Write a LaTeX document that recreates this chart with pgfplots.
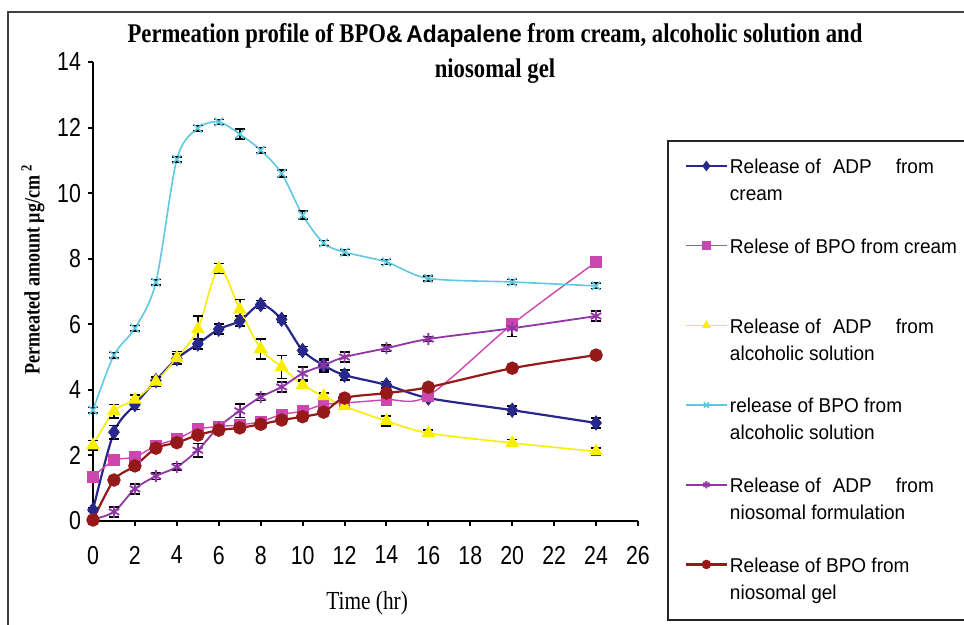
\documentclass[border=0pt]{standalone}
\usepackage{fontspec}
\setmainfont{Liberation Serif}
\newfontfamily\narrowserif[FakeStretch=0.84]{Liberation Serif}
\newfontfamily\labelserif[FakeStretch=0.82]{Liberation Serif}
\newfontfamily\tickfont[FakeStretch=0.82]{Liberation Sans}
\newfontfamily\legfont[FakeStretch=0.95]{Liberation Sans}
\usepackage{pgfplots}
\usepackage{pgfplotstable}
\pgfplotsset{compat=1.18}

\definecolor{adpcream}{RGB}{40,40,140}
\definecolor{bpocream}{RGB}{205,70,175}
\definecolor{adpalc}{RGB}{250,238,0}
\definecolor{bpoalc}{RGB}{95,200,225}
\definecolor{adpnio}{RGB}{145,55,165}
\definecolor{bponio}{RGB}{150,25,25}

% time (hr), permeated amount, error
\pgfplotstableread{
x y e
0 0.34 0.05
1 2.71 0.20
2 3.55 0.15
3 4.28 0.10
4 4.95 0.15
5 5.40 0.15
6 5.85 0.15
7 6.10 0.15
8 6.60 0.12
9 6.15 0.10
10 5.20 0.12
11 4.75 0.15
12 4.45 0.15
14 4.15 0.10
16 3.75 0.10
20 3.38 0.12
24 2.99 0.15
}\adpcream

\pgfplotstableread{
x y e
0 1.35 0.05
1 1.85 0.06
2 1.95 0.06
3 2.30 0.08
4 2.50 0.08
5 2.80 0.08
6 2.88 0.08
7 2.93 0.08
8 3.03 0.08
9 3.25 0.08
10 3.35 0.08
11 3.55 0.08
12 3.60 0.08
14 3.70 0.08
16 3.82 0.08
20 6.00 0.15
24 7.90 0.08
}\bpocream

\pgfplotstableread{
x y e
0 2.31 0.15
1 3.35 0.20
2 3.70 0.15
3 4.25 0.15
4 4.97 0.20
5 5.85 0.40
6 7.70 0.15
7 6.45 0.30
8 5.25 0.30
9 4.70 0.35
10 4.15 0.10
11 3.81 0.10
12 3.50 0.10
14 3.05 0.15
16 2.68 0.10
20 2.38 0.10
24 2.12 0.10
}\adpalc

\pgfplotstableread{
x y e
0 3.38 0.08
1 5.06 0.08
2 5.88 0.08
3 7.28 0.08
4 11.03 0.08
5 11.98 0.08
6 12.17 0.08
7 11.80 0.15
8 11.31 0.08
9 10.60 0.10
10 9.33 0.12
11 8.48 0.08
12 8.20 0.08
14 7.90 0.08
16 7.40 0.08
20 7.29 0.08
24 7.17 0.08
}\bpoalc

\pgfplotstableread{
x y e
0 0.05 0.05
1 0.28 0.15
2 0.98 0.15
3 1.37 0.10
4 1.65 0.10
5 2.16 0.20
6 2.87 0.15
7 3.36 0.20
8 3.78 0.10
9 4.09 0.15
10 4.50 0.20
11 4.75 0.20
12 5.00 0.15
14 5.27 0.10
16 5.55 0.08
20 5.88 0.25
24 6.25 0.15
}\adpnio

\pgfplotstableread{
x y e
0 0.03 0.05
1 1.25 0.06
2 1.68 0.08
3 2.22 0.08
4 2.39 0.08
5 2.62 0.08
6 2.77 0.08
7 2.84 0.08
8 2.95 0.08
9 3.08 0.08
10 3.18 0.08
11 3.32 0.08
12 3.75 0.08
14 3.90 0.08
16 4.08 0.08
20 4.66 0.08
24 5.06 0.08
}\bponio

\begin{document}
\begin{tikzpicture}
\path[use as bounding box] (0pt,0pt) rectangle (482pt,312.5pt);
% page frame
\draw[line width=0.8pt, black!75] (4pt,-2pt) -- (4pt,306.5pt) -- (484pt,306.5pt);

\node[font=\narrowserif\bfseries\fontsize{13.5}{17.5}\selectfont, align=center, inner sep=0pt]
  at (247.5pt,285.8pt)
  {Permeation profile of BPO{\legfont\bfseries\fontsize{12}{12}\selectfont\&\,Adapalene} from cream, alcoholic solution and\\ niosomal gel};

\begin{axis}[
  at={(46.5pt,52pt)}, anchor=south west,
  scale only axis, width=272.5pt, height=229.5pt,
  xmin=0, xmax=26, ymin=0, ymax=14,
  xtick={0,2,...,26}, ytick={0,2,...,14},
  axis lines*=left,
  axis line style={line width=1pt, black, -},
  tick style={black, line width=1pt},
  major tick length=2.5pt,
  tick align=outside,
  clip=false,
  /pgf/number format/assume math mode=true,
  ticklabel style={font=\tickfont\fontsize{13}{13}\selectfont},
  xticklabel style={yshift=-6.5pt},
  xlabel={Time (hr)},
  xlabel style={font=\labelserif\fontsize{13}{13}\selectfont, at={(axis description cs:0.503,-0.179)}, anchor=center},
  ylabel={Permeated amount µg/cm\,\textsuperscript{2}},
  ylabel style={font=\labelserif\bfseries\fontsize{11}{11}\selectfont, at={(axis description cs:-0.110,0.548)}, anchor=center},
  error bars/y dir=both,
  error bars/y explicit,
  error bars/error bar style={black, line width=0.8pt, solid},
  error bars/error mark options={black, line width=0.8pt, rotate=90, mark size=2.5pt, solid},
  legend image code/.code={%
    \draw[mark repeat=2,mark phase=2,#1,mark size=1.8pt] plot coordinates {(0pt,-4.7pt) (10.25pt,-4.7pt) (20.5pt,-4.7pt)};},
  legend style={at={(1.0532,0.8301)}, anchor=north west, draw=black!85, line width=0.8pt,
    inner xsep=8.5pt, inner ysep=7.9pt, row sep=15.2pt, column sep=0pt,
    font=\legfont\fontsize{10}{13.5}\selectfont,
    cells={anchor=north west, align=left}, nodes={inner sep=1pt}},
]
\addplot[adpcream, line width=1.1pt, smooth, mark=diamond*, mark size=3pt, mark options={solid, fill=adpcream}]
  table[x=x, y=y, y error=e] {\adpcream};
\addlegendentry{Release of\hspace{6pt}ADP\hspace{12pt}from\\cream\strut}

\addplot[bpocream, line width=0.7pt, smooth, mark=square*, mark size=2.6pt, mark options={solid, fill=bpocream}]
  table[x=x, y=y, y error=e] {\bpocream};
\addlegendentry{Relese of BPO from cream\\\strut}

\addplot[adpalc, line width=0.8pt, smooth, mark=triangle*, mark size=3.2pt, mark options={solid, fill=adpalc}]
  table[x=x, y=y, y error=e] {\adpalc};
\addlegendentry{Release of\hspace{6pt}ADP\hspace{12pt}from\\alcoholic solution\strut}

\addplot[bpoalc, line width=0.8pt, smooth, mark=x, mark size=3pt, mark options={solid}]
  table[x=x, y=y, y error=e] {\bpoalc};
\addlegendentry{release of BPO from\\alcoholic solution\strut}

\addplot[adpnio, line width=0.9pt, smooth, mark=asterisk, mark size=3pt, mark options={solid}]
  table[x=x, y=y, y error=e] {\adpnio};
\addlegendentry{Release of\hspace{6pt}ADP\hspace{12pt}from\\niosomal formulation\strut}

\addplot[bponio, line width=1.1pt, smooth, mark=*, mark size=2.8pt, mark options={solid, fill=bponio}]
  table[x=x, y=y, y error=e] {\bponio};
\addlegendentry{Release of BPO from\\niosomal gel\strut}
\end{axis}
\end{tikzpicture}
\end{document}
